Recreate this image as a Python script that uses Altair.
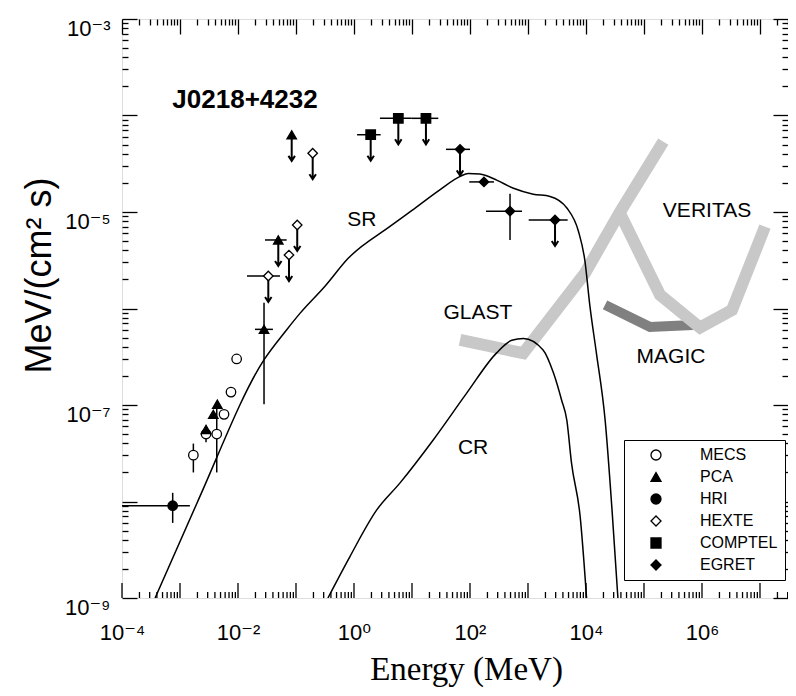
import altair as alt
import pandas as pd

# ---------------- data ----------------
# markers (energy in MeV, flux in MeV/(cm^2 s))
mecs_e = [1.70e-3, 2.81e-3, 4.30e-3, 5.74e-3, 7.57e-3, 9.48e-3]
mecs_f = [3.02e-8, 5.0e-8, 5.0e-8, 8.0e-8, 1.36e-7, 3.0e-7]
mecs_ul = [False, False, False, False, False, False]

pca_e = [2.81e-3, 3.75e-3, 4.40e-3, 2.81e-2, 4.95e-2, 8.43e-2]
pca_f = [5.58e-8, 8.0e-8, 1.02e-7, 6.08e-7, 5.13e-6, 6.3e-5]
pca_ul = [False, False, False, False, True, True]

hri_e = [7.48e-4]
hri_f = [9.04e-9]
hri_ul = [False]

hexte_e = [3.33e-2, 7.57e-2, 0.105, 0.194]
hexte_f = [2.17e-6, 3.58e-6, 7.33e-6, 4.06e-5]
hexte_ul = [True, True, True, True]

comptel_e = [1.94, 5.81, 17.4]
comptel_f = [6.32e-5, 9.35e-5, 9.35e-5]
comptel_ul = [True, True, True]

egret_e = [67.3, 174.0, 490.0, 2924.0]
egret_f = [4.46e-5, 2.05e-5, 1.02e-5, 8.26e-6]
egret_ul = [True, False, False, True]

# horizontal error bars: low energy, high energy, flux
xerr_lo = [1.0e-4, 1.96e-2, 2.92e-2, 1.43e-2, 1.13, 2.8, 9.9, 38.5, 97.0, 189.0, 1028.0]
xerr_hi = [1.48e-3, 4.0e-2, 6.9e-2, 5.3e-2, 2.88, 9.9, 28.4, 100.0, 259.0, 789.0, 4830.0]
xerr_f = [9.04e-9, 6.08e-7, 5.13e-6, 2.17e-6, 6.32e-5, 9.35e-5, 9.35e-5, 4.46e-5, 2.05e-5, 1.02e-5, 8.26e-6]

# vertical error bars: energy, low flux, high flux
yerr_e = [7.48e-4, 1.70e-3, 2.81e-3, 4.30e-3, 2.81e-2, 490.0]
yerr_lo = [6.0e-9, 2.0e-8, 4.1e-8, 2.0e-8, 1.02e-7, 5.13e-6]
yerr_hi = [1.23e-8, 3.98e-8, 5.6e-8, 1.0e-7, 1.15e-6, 1.55e-5]

# model curves
sr_e = [3.72e-4, 1.95e-3, 2.82e-2, 6.92e-2, 0.117, 0.316, 0.794, 4.17, 10.0, 30.2, 67.6,
        93.3, 148.0, 288.0, 562.0, 1230.0, 2400.0, 4680.0, 7410.0, 9550.0, 1.17e4,
        1.51e4, 2.14e4, 2.82e4, 3.55e4]
sr_f = [1.0e-9, 9.55e-9, 2.95e-7, 6.03e-7, 8.9e-7, 1.70e-6, 3.31e-6, 7.08e-6, 1.04e-5, 1.70e-5,
        2.34e-5, 2.51e-5, 2.48e-5, 2.14e-5, 1.76e-5, 1.53e-5, 1.45e-5, 1.10e-5, 6.31e-6,
        3.16e-6, 1.05e-6, 3.47e-7, 6.92e-8, 7.94e-9, 1.0e-9]

cr_e = [0.355, 0.851, 2.45, 6.17, 23.4, 87.1, 288.0, 525.0, 832.0, 1820.0, 2754.0,
        3802.0, 4677.0, 5623.0, 7943.0, 10233.0]
cr_f = [1.0e-9, 2.69e-9, 8.13e-9, 1.55e-8, 4.37e-8, 1.32e-7, 3.47e-7, 4.68e-7, 4.90e-7,
        3.72e-7, 2.14e-7, 1.12e-7, 6.92e-8, 2.51e-8, 6.92e-9, 1.0e-9]

glast_e = [67.3, 830.0, 9616.0, 3.85e4, 2.15e5]
glast_f = [4.72e-7, 3.44e-7, 2.33e-6, 1.0e-5, 5.36e-5]

veritas_e = [3.61e4, 1.89e5, 9.25e5, 3.29e6, 1.22e7]
veritas_f = [1.05e-5, 1.38e-6, 6.35e-7, 9.64e-7, 7.05e-6]

magic_e = [2.13e4, 1.27e5, 7.0e5]
magic_f = [1.09e-6, 6.43e-7, 6.75e-7]

# annotations
ann_text = ["SR", "GLAST", "VERITAS", "MAGIC", "CR"]
ann_e = [1.37, 137.0, 1.22e6, 2.92e5, 113.0]
ann_f = [8.26e-6, 8.98e-7, 1.02e-5, 3.14e-7, 3.58e-8]

src_text = ["J0218+4232"]
src_e = [1.32e-2]
src_f = [1.45e-4]

instruments = ["MECS", "PCA", "HRI", "HEXTE", "COMPTEL", "EGRET"]
inst_shapes = ["circle", "triangle-up", "circle", "diamond", "square", "diamond"]
inst_fills = ["white", "black", "black", "white", "black", "black"]
inst_strokes = ["black", "black", "black", "black", "black", "black"]

# ---------------- frames ----------------
rows = []
for name, es, fs, uls in [("MECS", mecs_e, mecs_f, mecs_ul), ("PCA", pca_e, pca_f, pca_ul),
                          ("HRI", hri_e, hri_f, hri_ul), ("HEXTE", hexte_e, hexte_f, hexte_ul),
                          ("COMPTEL", comptel_e, comptel_f, comptel_ul),
                          ("EGRET", egret_e, egret_f, egret_ul)]:
    for e, f, u in zip(es, fs, uls):
        rows.append({"inst": name, "E": e, "F": f, "ul": u})
pts = pd.DataFrame(rows)
ul_pts = pts[pts["ul"]]

xerr_df = pd.DataFrame({"E": xerr_lo, "E2": xerr_hi, "F": xerr_f})
yerr_df = pd.DataFrame({"E": yerr_e, "F": yerr_lo, "F2": yerr_hi})
sr_df = pd.DataFrame({"E": sr_e, "F": sr_f})
cr_df = pd.DataFrame({"E": cr_e, "F": cr_f})
glast_df = pd.DataFrame({"E": glast_e, "F": glast_f})
veritas_df = pd.DataFrame({"E": veritas_e, "F": veritas_f})
magic_df = pd.DataFrame({"E": magic_e, "F": magic_f})
ann_df = pd.DataFrame({"E": ann_e, "F": ann_f, "t": ann_text})
src_df = pd.DataFrame({"E": src_e, "F": src_f, "t": src_text})
carrier = pd.DataFrame({"E": [1.0], "F": [1e-6]})

# ---------------- geometry / scales ----------------
W, H = 666, 579
XMAX = 3.04e7
xs = alt.Scale(type="log", domain=[1e-4, XMAX], nice=False)
ys = alt.Scale(type="log", domain=[1e-9, 1e-3], nice=False)

x_major = [10.0 ** k for k in range(-4, 8)]
x_minor = [m * 10.0 ** k for k in range(-4, 8) for m in range(2, 10) if m * 10.0 ** k <= XMAX]
x_ticks = sorted(x_major + x_minor)
y_ticks = [m * 10.0 ** k for k in range(-9, -2) for m in range(1, 10) if m * 10.0 ** k <= 1e-3]
x_label_values = [1e-4, 1e-2, 1e0, 1e2, 1e4, 1e6]

FONT = "Liberation Sans, DejaVu Sans"
EXP = "round(log(datum.value)/LN10)"
SUP = "['⁰','¹','²','³','⁴','⁵','⁶','⁷','⁸','⁹']"
POW = f"'10' + ({EXP} < 0 ? '⁻' : '') + {SUP}[abs({EXP})]"
MAJOR = f"abs(log(datum.value)/LN10 - {EXP}) < 0.01"
Y_LABEL_EXPR = f"(({MAJOR}) && ({EXP} % 2 != 0)) ? {POW} : ''"
# inward ticks: negative tick length evaluated per tick
TSIZE = alt.ExprRef(expr=f"({MAJOR}) ? -15 : -6")


def X(field="E", axis=None):
    return alt.X(field, type="quantitative", scale=xs, axis=axis)


def Y(field="F", axis=None):
    return alt.Y(field, type="quantitative", scale=ys, axis=axis)


def tick_axis(orient, values):
    return alt.Axis(orient=orient, values=values, labels=False, domain=False,
                    grid=False, ticks=True, tickSize=TSIZE, tickWidth=1.3, tickColor="black",
                    title=None)


label_x = alt.Axis(orient="bottom", values=x_label_values, ticks=False, domain=False, grid=False,
                   labelExpr=POW, labelFont=FONT, labelFontSize=22, labelColor="black",
                   labelPadding=24, labelBaseline="top", labelFlush=False, labelOverlap=False,
                   title="Energy (MeV)", titleFont="Liberation Serif", titleFontSize=33,
                   titleFontWeight="normal", titleColor="black", titleX=344, titleY=81,
                   titleBaseline="alphabetic", titleAlign="center")
label_y = alt.Axis(orient="left", values=y_ticks, ticks=True, tickSize=TSIZE, tickWidth=1.3,
                   tickColor="black", domain=False, grid=False,
                   labelExpr=Y_LABEL_EXPR, labelFont=FONT, labelFontSize=22, labelColor="black",
                   labelPadding=27, labelOffset=9, labelBaseline="middle", labelFlush=False,
                   labelOverlap=False, title="MeV/(cm² s)", titleFont=FONT, titleFontSize=36,
                   titleFontWeight="normal", titleColor="black", titleX=-83, titleY=256,
                   titleAngle=270, titleBaseline="middle", titleAlign="center")

# ---------------- layers ----------------
magic = alt.Chart(magic_df).mark_line(color="#808080", strokeWidth=10, strokeCap="butt",
                                      clip=True).encode(x=X(), y=Y())
veritas = alt.Chart(veritas_df).mark_line(color="#c8c8c8", strokeWidth=12, strokeCap="butt",
                                          clip=True).encode(x=X(), y=Y())
glast = alt.Chart(glast_df).mark_line(color="#c8c8c8", strokeWidth=12, strokeCap="butt",
                                      clip=True).encode(x=X(), y=Y())
sr = alt.Chart(sr_df).mark_line(color="black", strokeWidth=1.5, clip=True,
                                interpolate="monotone").encode(x=X(), y=Y())
cr = alt.Chart(cr_df).mark_line(color="black", strokeWidth=1.5, clip=True,
                                interpolate="monotone").encode(x=X(), y=Y())

xbars = alt.Chart(xerr_df).mark_rule(color="black", strokeWidth=1.5, clip=True).encode(
    x=X("E"), x2="E2", y=Y("F"))
ybars = alt.Chart(yerr_df).mark_rule(color="black", strokeWidth=1.5, clip=True).encode(
    x=X("E"), y=Y("F"), y2="F2")

ARROW = "M0,0L0,5.2M-0.65,4.2L0,5.2L0.65,4.2"
arrows = alt.Chart(ul_pts).mark_point(shape=ARROW, size=100, filled=False, stroke="black",
                                      strokeWidth=2, opacity=1).encode(x=X(), y=Y())

leg = alt.Legend(title=None, orient="none", legendX=502, legendY=421, labelFont=FONT,
                 labelFontSize=16, labelColor="black", symbolSize=100,
                 symbolStrokeWidth=1.3, rowPadding=6, padding=7,
                 strokeColor="black", fillColor="white", labelOffset=36, symbolOffset=17)
markers = alt.Chart(pts).mark_point(size=90, strokeWidth=1.3, opacity=1).encode(
    x=X(), y=Y(),
    shape=alt.Shape("inst:N", scale=alt.Scale(domain=instruments, range=inst_shapes), legend=leg),
    fill=alt.Fill("inst:N", scale=alt.Scale(domain=instruments, range=inst_fills), legend=leg),
    stroke=alt.Stroke("inst:N", scale=alt.Scale(domain=instruments, range=inst_strokes), legend=leg),
)

ann = alt.Chart(ann_df).mark_text(font=FONT, fontSize=21, color="black", align="center",
                                  baseline="middle").encode(x=X(), y=Y(), text="t:N")
src = alt.Chart(src_df).mark_text(font=FONT, fontSize=26, fontWeight="bold", color="black",
                                  align="center", baseline="middle").encode(x=X(), y=Y(), text="t:N")

# inward tick marks along the bottom edge, placed by the x scale
bottom_major = alt.Chart(pd.DataFrame({"E": x_major})).mark_rule(
    color="black", strokeWidth=1.3).encode(x=X("E"), y=alt.value(H - 15), y2=alt.value(H))
bottom_minor = alt.Chart(pd.DataFrame({"E": x_minor})).mark_rule(
    color="black", strokeWidth=1.3).encode(x=X("E"), y=alt.value(H - 6), y2=alt.value(H))

ax_labels = alt.Chart(carrier).mark_point(opacity=0).encode(x=X(axis=label_x), y=Y(axis=label_y))
ax_ticks = alt.Chart(carrier).mark_point(opacity=0).encode(
    x=X(axis=tick_axis("top", x_ticks)), y=Y(axis=tick_axis("right", y_ticks)))

chart = alt.layer(
    magic, veritas, glast, sr, cr, xbars, ybars, arrows, markers, ann, src,
    bottom_major, bottom_minor, ax_labels, ax_ticks,
).resolve_axis(x="independent", y="independent").properties(
    width=W, height=H,
    autosize=alt.AutoSizeParams(type="none"),
    padding={"left": 114, "top": 11, "right": 0, "bottom": 90},
    background="white",
).configure_view(stroke="black", strokeWidth=1.5).configure(font=FONT)

chart.save("out.html", embed_options={"renderer": "svg", "actions": False})
